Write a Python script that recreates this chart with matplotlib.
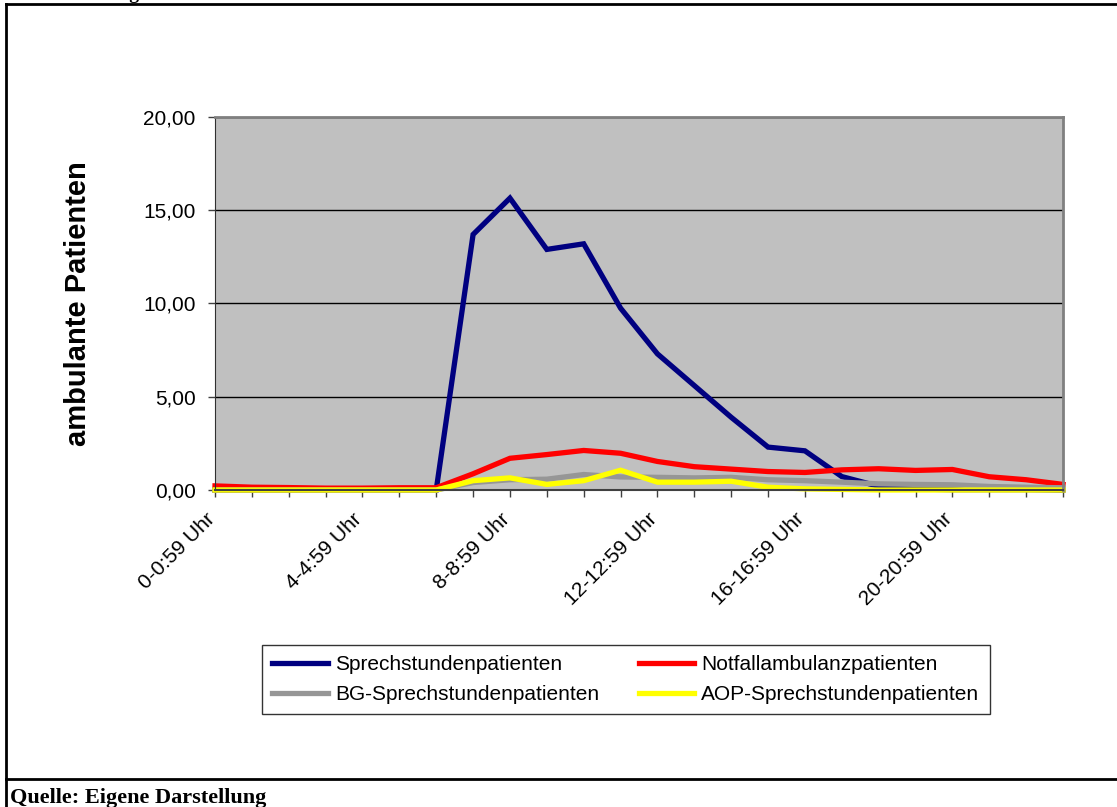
import matplotlib
matplotlib.use("Agg")
import matplotlib.pyplot as plt
from matplotlib.lines import Line2D
from matplotlib.ticker import FuncFormatter, MultipleLocator
from matplotlib.transforms import ScaledTranslation

# Stunden des Tages (0-23), beschriftet wird jede vierte
hours = list(range(24))
hour_labels = [f"{h}-{h}:59 Uhr" for h in hours]

sprechstunde = [0, 0, 0, 0, 0, 0, 0, 13.7, 15.65, 12.9, 13.2, 9.75, 7.3, 5.6,
                3.9, 2.3, 2.1, 0.72, 0.2, 0.05, 0.02, 0.02, 0.02, 0.0]
notfall = [0.22, 0.15, 0.13, 0.1, 0.1, 0.12, 0.12, 0.87, 1.7, 1.9, 2.12, 1.97,
           1.53, 1.25, 1.12, 0.99, 0.94, 1.08, 1.14, 1.05, 1.1, 0.71, 0.55, 0.3]
bg_sprechstunde = [0, 0, 0, 0, 0, 0, 0, 0.4, 0.55, 0.58, 0.83, 0.7, 0.68, 0.65,
                   0.68, 0.55, 0.5, 0.42, 0.33, 0.3, 0.28, 0.19, 0.15, 0.12]
aop_sprechstunde = [0, 0, 0, 0, 0, 0, 0, 0.5, 0.65, 0.3, 0.5, 1.06, 0.42, 0.42,
                    0.47, 0.15, 0.06, 0.03, 0, 0, 0, 0, 0, 0]

series = [
    ("Sprechstundenpatienten", sprechstunde, "#000080"),
    ("Notfallambulanzpatienten", notfall, "#FF0000"),
    ("BG-Sprechstundenpatienten", bg_sprechstunde, "#969696"),
    ("AOP-Sprechstundenpatienten", aop_sprechstunde, "#FFFF00"),
]

plt.rcParams["font.family"] = ["Liberation Sans", "DejaVu Sans"]

W, H = 1117, 807
fig = plt.figure(figsize=(W / 100, H / 100), dpi=100)
ax = fig.add_axes([215 / W, 1 - 490 / H, (1063 - 215) / W, (490 - 117) / H])
ax.set_facecolor("#C0C0C0")

lines = []
for name, vals, col in series:
    ln, = ax.plot(hours, vals, color=col, lw=3.8, label=name, clip_on=False,
                  solid_joinstyle="miter")
    lines.append(ln)

ax.set_xlim(0, 23)
ax.set_ylim(0, 20)
ax.yaxis.set_major_locator(MultipleLocator(5))
ax.yaxis.set_major_formatter(FuncFormatter(lambda v, _: f"{v:.2f}".replace(".", ",")))
ax.grid(axis="y", color="black", lw=1)
ax.set_axisbelow(True)

ax.set_xticks(hours)
ax.set_xticklabels([lbl if h % 4 == 0 else "" for h, lbl in zip(hours, hour_labels)],
                   rotation=45, ha="right", rotation_mode="anchor")
ax.tick_params(axis="both", direction="out", length=5, width=1, colors="#404040",
               labelcolor="black", labelsize=15)
ax.tick_params(axis="x", pad=6)
ax.tick_params(axis="y", pad=9)
# schräge Beschriftung etwas nach links unten versetzen
shift = ScaledTranslation(-0.10, -0.04, fig.dpi_scale_trans)
for lbl in ax.get_xticklabels():
    lbl.set_transform(lbl.get_transform() + shift)

for side in ("top", "right"):
    ax.spines[side].set_color("#808080")
    ax.spines[side].set_linewidth(2)
ax.spines["left"].set_color("#303030")
ax.spines["bottom"].set_color("#404040")
ax.spines["bottom"].set_linewidth(1.5)

ax.set_ylabel("ambulante Patienten", fontsize=21, fontweight="bold")
ax.yaxis.set_label_coords(-0.145, 0.5)

# Legende zeilenweise: erst Sprechstunde/Notfall, dann BG/AOP
order = [0, 2, 1, 3]
leg = fig.legend([lines[i] for i in order], [series[i][0] for i in order],
                 loc="upper left", bbox_to_anchor=(262 / W, 1 - 645 / H), ncol=2,
                 fontsize=15, frameon=True, fancybox=False, edgecolor="black",
                 handlelength=2.65, handletextpad=0.35, columnspacing=1.9,
                 borderpad=0.5, labelspacing=0.5, borderaxespad=0)
leg.get_frame().set_linewidth(1)

# Rahmen um die Abbildung
frame_kw = dict(transform=fig.transFigure, color="black", lw=2)
fig.add_artist(Line2D([6 / W, 1], [1 - 4 / H, 1 - 4 / H], **frame_kw))
fig.add_artist(Line2D([6 / W, 6 / W], [0, 1 - 4 / H], **frame_kw))
fig.add_artist(Line2D([6 / W, 1], [1 - 779 / H, 1 - 779 / H], **frame_kw))

fig.text(140 / W, 1 + 1 / H, "Abbildung", ha="right", va="baseline",
         fontsize=14, fontweight="bold", family=["Liberation Serif", "DejaVu Serif"])
fig.text(10 / W, 1 - 803 / H, "Quelle: Eigene Darstellung", ha="left", va="baseline",
         fontsize=16, fontweight="bold", family=["Liberation Serif", "DejaVu Serif"])

fig.savefig("out.png", dpi=100)
